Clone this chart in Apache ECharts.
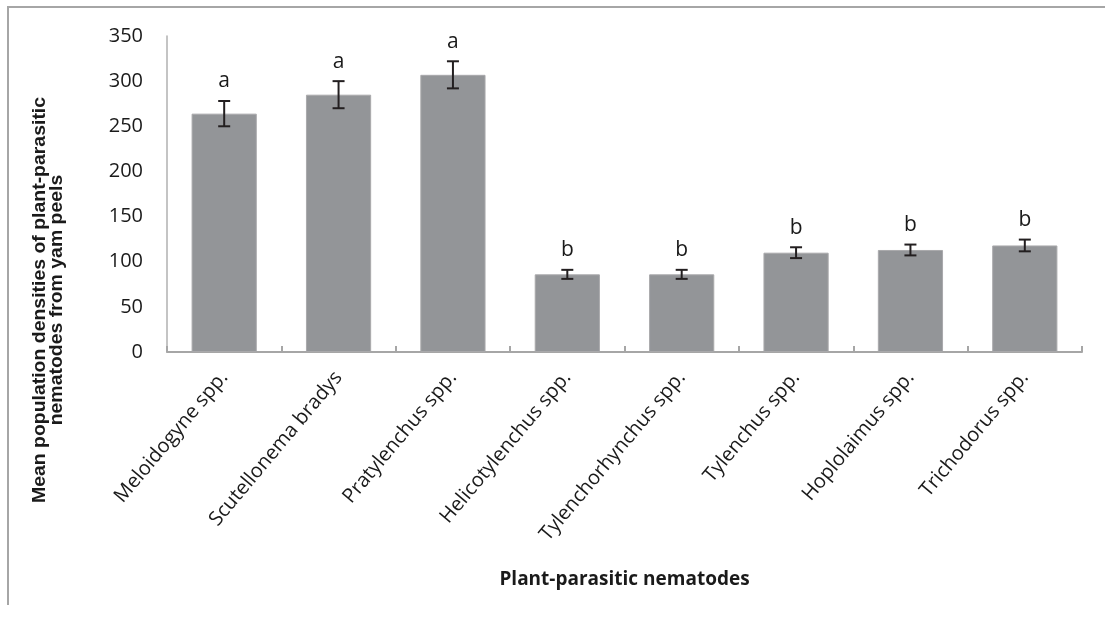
<!DOCTYPE html>
<html>
<head>
<meta charset="utf-8">
<script src="https://cdn.jsdelivr.net/npm/echarts@6/dist/echarts.min.js"></script>
<style>
  html, body { margin: 0; padding: 0; background: #fff; }
  #chart-container { width: 1105px; height: 617px; }
</style>
</head>
<body>
<div id="chart-container"></div>
<script>
var nematodes = ['Meloidogyne spp.', 'Scutellonema bradys', 'Pratylenchus spp.', 'Helicotylenchus spp.',
    'Tylenchorhynchus spp.', 'Tylenchus spp.', 'Hoplolaimus spp.', 'Trichodorus spp.'];
var meanDensity = [264, 285, 307, 86, 86, 110, 113, 118];
var stdError = [14, 15, 15, 5, 5, 6, 6, 6.5];
var groupLetters = ['a', 'a', 'a', 'b', 'b', 'b', 'b', 'b'];
var yTicks = [0, 50, 100, 150, 200, 250, 300, 350];

var NematodeChart = function () {
    var _drawChart = function () {
        var dom = document.getElementById('chart-container');
        var myChart = echarts.init(dom, null, { renderer: 'canvas' });

        var errData = [];
        for (var i = 0; i < nematodes.length; i++) {
            errData.push([i, meanDensity[i] - stdError[i], meanDensity[i] + stdError[i]]);
        }

        var option = {
            animation: false,
            backgroundColor: '#fff',
            grid: { left: 167, right: 23, top: 36, bottom: 265 },
            graphic: [
                {
                    type: 'polyline',
                    shape: { points: [[8, 605], [8, 7], [1105, 7]] },
                    style: { stroke: '#a6a6a6', lineWidth: 2, fill: null }
                },
                {
                    type: 'text',
                    x: 49, y: 300,
                    rotation: Math.PI / 2,
                    scaleX: 1.08,
                    style: {
                        text: 'Mean population densities of plant-parasitic\nnematodes from yam peels',
                        fontFamily: 'Liberation Sans',
                        fontWeight: 'bold',
                        fontSize: 18,
                        lineHeight: 17,
                        align: 'center',
                        verticalAlign: 'middle',
                        fill: '#1a1a1a'
                    }
                }
            ],
            xAxis: {
                type: 'category',
                data: nematodes,
                name: 'Plant-parasitic nematodes',
                nameLocation: 'middle',
                nameGap: 218,
                nameTextStyle: { fontFamily: 'Open Sans', fontWeight: 'bold', fontSize: 19, color: '#1a1a1a' },
                axisLine: { lineStyle: { color: '#a6a6a6', width: 2 } },
                axisTick: { show: true, inside: true, length: 6, lineStyle: { color: '#a6a6a6', width: 2 } },
                axisLabel: {
                    rotate: 50,
                    margin: 22,
                    interval: 0,
                    fontFamily: 'Open Sans',
                    fontSize: 20,
                    color: '#1a1a1a'
                }
            },
            yAxis: {
                type: 'value',
                min: 0,
                max: 350,
                interval: 50,
                axisLine: { show: true, lineStyle: { color: '#b0b0b0', width: 1.5 } },
                axisTick: { show: false },
                splitLine: { show: false },
                axisLabel: {
                    margin: 24,
                    fontFamily: 'Open Sans',
                    fontSize: 20,
                    color: '#1a1a1a',
                    formatter: function (v) { return yTicks.indexOf(v) >= 0 ? String(v) : ''; }
                }
            },
            series: [
                {
                    type: 'bar',
                    data: meanDensity,
                    barCategoryGap: '43%',
                    itemStyle: { color: '#939598', borderColor: '#a9a9ab', borderWidth: 1 }
                },
                {
                    type: 'custom',
                    data: errData,
                    z: 10,
                    renderItem: function (params, api) {
                        var idx = api.value(0);
                        var lo = api.coord([idx, api.value(1)]);
                        var hi = api.coord([idx, api.value(2)]);
                        var cap = 6;
                        var st = { stroke: '#231f20', lineWidth: 2 };
                        return {
                            type: 'group',
                            children: [
                                { type: 'line', shape: { x1: hi[0], y1: hi[1], x2: lo[0], y2: lo[1] }, style: st },
                                { type: 'line', shape: { x1: hi[0] - cap, y1: hi[1], x2: hi[0] + cap, y2: hi[1] }, style: st },
                                { type: 'line', shape: { x1: lo[0] - cap, y1: lo[1], x2: lo[0] + cap, y2: lo[1] }, style: st },
                                {
                                    type: 'text',
                                    x: hi[0], y: hi[1] - 9,
                                    style: {
                                        text: groupLetters[params.dataIndex],
                                        fontFamily: 'Open Sans',
                                        fontSize: 21,
                                        align: 'center',
                                        verticalAlign: 'bottom',
                                        fill: '#1a1a1a'
                                    }
                                }
                            ]
                        };
                    }
                }
            ]
        };

        myChart.setOption(option);
        window.addEventListener('resize', function () {
            myChart.resize();
        });
    };

    return {
        init: function () {
            _drawChart();
        }
    };
}();

document.addEventListener('DOMContentLoaded', function () {
    NematodeChart.init();
});
</script>
</body>
</html>
